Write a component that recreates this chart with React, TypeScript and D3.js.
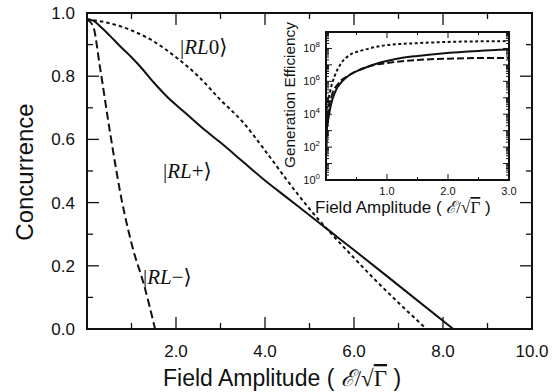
import React from "react";
import * as d3 from "d3";

// ---- Main panel data ----
const rl0X = [0, 0.5, 1.0, 1.5, 2.0, 2.5, 3.0, 3.5, 4.0, 4.5, 5.0, 5.5, 6.0, 6.5, 7.0, 7.63];
const rl0Y = [0.98, 0.968, 0.945, 0.91, 0.86, 0.8, 0.725, 0.655, 0.565, 0.47, 0.38, 0.3, 0.225, 0.152, 0.083, 0.0];

const rlpX = [0, 0.15, 0.3, 0.5, 0.75, 1.0, 1.2, 1.5, 1.8, 2.2, 2.6, 3.0, 3.5, 4.0, 4.5, 5.0, 5.5, 6.0, 7.0, 8.23];
const rlpY = [0.98, 0.975, 0.957, 0.93, 0.894, 0.86, 0.83, 0.78, 0.735, 0.685, 0.635, 0.59, 0.53, 0.47, 0.415, 0.36, 0.305, 0.25, 0.138, 0.0];

const rlmX = [0, 0.14, 0.29, 0.52, 0.78, 1.04, 1.27, 1.53];
const rlmY = [0.98, 0.957, 0.83, 0.62, 0.408, 0.25, 0.145, 0.0];

const xMajor = [2, 4, 6, 8];
const xMinor = [1, 3, 5, 7, 9];
const xLabels = ["2.0", "4.0", "6.0", "8.0", "10.0"];
const xLabelVals = [2, 4, 6, 8, 10];
const yMajor = [0.2, 0.4, 0.6, 0.8];
const yMinor = [0.1, 0.3, 0.5, 0.7, 0.9];
const yLabels = ["0.0", "0.2", "0.4", "0.6", "0.8", "1.0"];
const yLabelVals = [0, 0.2, 0.4, 0.6, 0.8, 1.0];

// ---- Inset data ----
const inRl0X = [0.005, 0.02, 0.066, 0.15, 0.23, 0.39, 0.61, 0.83, 1.0, 1.5, 2.0, 2.5, 3.0];
const inRl0Y = [1.0e3, 2.3e4, 2.3e5, 2.5e6, 1.0e7, 4.0e7, 7.9e7, 1.26e8, 1.6e8, 2.1e8, 2.5e8, 2.7e8, 2.8e8];

const inRlpX = [0.003, 0.01, 0.04, 0.08, 0.15, 0.26, 0.39, 0.61, 0.89, 1.05, 1.21, 1.5, 1.9, 2.5, 3.0];
const inRlpY = [3.2e1, 8.7e2, 5.6e3, 3.6e4, 2.3e5, 9.5e5, 2.5e6, 6.0e6, 1.4e7, 1.9e7, 2.5e7, 3.5e7, 5.0e7, 7.1e7, 8.5e7];

const inRlmX = [0.005, 0.03, 0.1, 0.2, 0.4, 0.6, 0.8, 1.0, 1.5, 2.0, 2.5, 3.0];
const inRlmY = [1e2, 1e4, 1.6e5, 7.1e5, 2.6e6, 6.0e6, 1.0e7, 1.3e7, 2.0e7, 2.4e7, 2.6e7, 2.63e7];

const inXMajor = [1, 2];
const inXMinor = [0.5, 1.5, 2.5];
const inXLabels = ["1.0", "2.0", "3.0"];
const inXLabelVals = [1, 2, 3];
const inYExps = [0, 2, 4, 6, 8];

const W = 559;
const H = 392;

export default function App() {
  const x = d3.scaleLinear().domain([0, 10]).range([87, 532]);
  const y = d3.scaleLinear().domain([0, 1]).range([329, 13]);
  const ix = d3.scaleLinear().domain([0, 3]).range([326, 509]);
  const iy = d3.scaleLog().domain([1, 1e9]).range([180, 32]);

  const line = (xs: number[], ys: number[]) =>
    d3
      .line<number>()
      .x((_, i) => x(xs[i]))
      .y((_, i) => y(ys[i]))
      .curve(d3.curveMonotoneX)(xs) || "";
  const iline = (xs: number[], ys: number[]) =>
    d3
      .line<number>()
      .x((_, i) => ix(xs[i]))
      .y((_, i) => iy(ys[i]))
      .curve(d3.curveMonotoneX)(xs) || "";

  const [x0, x1] = x.range();
  const [y0, y1] = y.range();
  const [ix0, ix1] = ix.range();
  const [iy0, iy1] = iy.range();

  const inYMinor: number[] = [];
  for (let e = 0; e < 9; e++) for (let k = 2; k <= 9; k++) inYMinor.push(k * Math.pow(10, e));
  const inYMajorAll: number[] = [];
  for (let e = 1; e < 9; e++) inYMajorAll.push(Math.pow(10, e));

  const sans = "'Liberation Sans', Arial, Helvetica, sans-serif";
  const serif = "'Liberation Serif', 'DejaVu Serif', 'Times New Roman', serif";
  const stroke = "#111";

  const mathTitle = () => (
    <>
      <tspan>Field Amplitude ( </tspan>
      <tspan fontFamily={serif} fontStyle="italic">ℰ</tspan>
      <tspan fontFamily={serif}>/</tspan>
      <tspan fontFamily={serif}>√</tspan>
      <tspan fontFamily={serif} textDecoration="overline">Γ</tspan>
      <tspan> )</tspan>
    </>
  );

  const ket = (mid: string, tx: number, ty: number) => (
    <text x={tx} y={ty} fontFamily={serif} fontSize={21} fill={stroke}>
      <tspan>|</tspan>
      <tspan fontStyle="italic">RL</tspan>
      <tspan>{mid}</tspan>
      <tspan>⟩</tspan>
    </text>
  );

  return (
    <svg width={W} height={H} style={{ position: "absolute", left: 0, top: 0, background: "#fff" }}>
      <defs>
        <clipPath id="mainClip">
          <rect x={x0} y={y1} width={x1 - x0} height={y0 - y1} />
        </clipPath>
        <clipPath id="insetClip">
          <rect x={ix0} y={iy1} width={ix1 - ix0} height={iy0 - iy1} />
        </clipPath>
      </defs>
      <rect x={0} y={0} width={W} height={H} fill="#fff" />

      {/* main ticks */}
      <g stroke={stroke} strokeWidth={1.3}>
        {xMajor.map((v) => (
          <g key={"xM" + v}>
            <line x1={x(v)} x2={x(v)} y1={y0} y2={y0 - 12} />
            <line x1={x(v)} x2={x(v)} y1={y1} y2={y1 + 12} />
          </g>
        ))}
        {xMinor.map((v) => (
          <g key={"xm" + v}>
            <line x1={x(v)} x2={x(v)} y1={y0} y2={y0 - 6} />
            <line x1={x(v)} x2={x(v)} y1={y1} y2={y1 + 6} />
          </g>
        ))}
        {yMajor.map((v) => (
          <g key={"yM" + v}>
            <line x1={x0} x2={x0 + 12} y1={y(v)} y2={y(v)} />
            <line x1={x1} x2={x1 - 12} y1={y(v)} y2={y(v)} />
          </g>
        ))}
        {yMinor.map((v) => (
          <g key={"ym" + v}>
            <line x1={x0} x2={x0 + 6} y1={y(v)} y2={y(v)} />
            <line x1={x1} x2={x1 - 6} y1={y(v)} y2={y(v)} />
          </g>
        ))}
      </g>

      {/* main curves */}
      <g clipPath="url(#mainClip)" fill="none" stroke={stroke} strokeWidth={2}>
        <path d={line(rl0X, rl0Y)} strokeDasharray="3.5,3" />
        <path d={line(rlpX, rlpY)} />
        <path d={line(rlmX, rlmY)} strokeDasharray="8,4" />
      </g>

      <rect x={x0} y={y1} width={x1 - x0} height={y0 - y1} fill="none" stroke={stroke} strokeWidth={2} />

      {/* main tick labels */}
      <g fontFamily={sans} fontSize={17} fill={stroke}>
        {xLabelVals.map((v, i) => (
          <text key={"xl" + v} x={x(v)} y={357} textAnchor="middle">
            {xLabels[i]}
          </text>
        ))}
        {yLabelVals.map((v, i) => (
          <text key={"yl" + v} x={75} y={y(v) + 6} textAnchor="end">
            {yLabels[i]}
          </text>
        ))}
      </g>

      <text fontFamily={sans} fontSize={23} fill={stroke} x={163} y={386}>
        {mathTitle()}
      </text>
      <text
        fontFamily={sans}
        fontSize={24}
        fill={stroke}
        textAnchor="middle"
        transform={`translate(33,172) rotate(-90)`}
      >
        Concurrence
      </text>

      {ket("0", 180, 54)}
      {ket("+", 163, 178)}
      {ket("−", 143, 284)}

      {/* inset */}
      <rect x={ix0} y={iy1} width={ix1 - ix0} height={iy0 - iy1} fill="#fff" />
      <g stroke={stroke} strokeWidth={1}>
        {inXMajor.map((v) => (
          <g key={"ixM" + v}>
            <line x1={ix(v)} x2={ix(v)} y1={iy0} y2={iy0 - 6} />
            <line x1={ix(v)} x2={ix(v)} y1={iy1} y2={iy1 + 6} />
          </g>
        ))}
        {inXMinor.map((v) => (
          <g key={"ixm" + v}>
            <line x1={ix(v)} x2={ix(v)} y1={iy0} y2={iy0 - 3} />
            <line x1={ix(v)} x2={ix(v)} y1={iy1} y2={iy1 + 3} />
          </g>
        ))}
        {inYMajorAll.map((v) => (
          <g key={"iyM" + v}>
            <line x1={ix0} x2={ix0 + 6} y1={iy(v)} y2={iy(v)} />
            <line x1={ix1} x2={ix1 - 6} y1={iy(v)} y2={iy(v)} />
          </g>
        ))}
        {inYMinor.map((v) => (
          <g key={"iym" + v}>
            <line x1={ix0} x2={ix0 + 3} y1={iy(v)} y2={iy(v)} />
            <line x1={ix1} x2={ix1 - 3} y1={iy(v)} y2={iy(v)} />
          </g>
        ))}
      </g>
      <g clipPath="url(#insetClip)" fill="none" stroke={stroke} strokeWidth={2}>
        <path d={iline(inRl0X, inRl0Y)} strokeDasharray="3,2.5" />
        <path d={iline(inRlpX, inRlpY)} />
        <path d={iline(inRlmX, inRlmY)} strokeDasharray="7,3" />
      </g>
      <rect x={ix0} y={iy1} width={ix1 - ix0} height={iy0 - iy1} fill="none" stroke={stroke} strokeWidth={2} />

      <g fontFamily={sans} fontSize={11} fill={stroke}>
        {inXLabelVals.map((v, i) => (
          <text key={"ixl" + v} x={ix(v)} y={195} textAnchor="middle">
            {inXLabels[i]}
          </text>
        ))}
        {inYExps.map((e) => (
          <text key={"iyl" + e} x={320} y={iy(Math.pow(10, e)) + 4} textAnchor="end">
            <tspan>10</tspan>
            <tspan fontSize={8} dy={-5}>{String(e)}</tspan>
          </text>
        ))}
      </g>
      <text fontFamily={sans} fontSize={17} fill={stroke} x={315} y={213}>
        {mathTitle()}
      </text>
      <text
        fontFamily={sans}
        fontSize={15.4}
        fill={stroke}
        textAnchor="middle"
        transform={`translate(295,95) rotate(-90)`}
      >
        Generation Efficiency
      </text>
    </svg>
  );
}
